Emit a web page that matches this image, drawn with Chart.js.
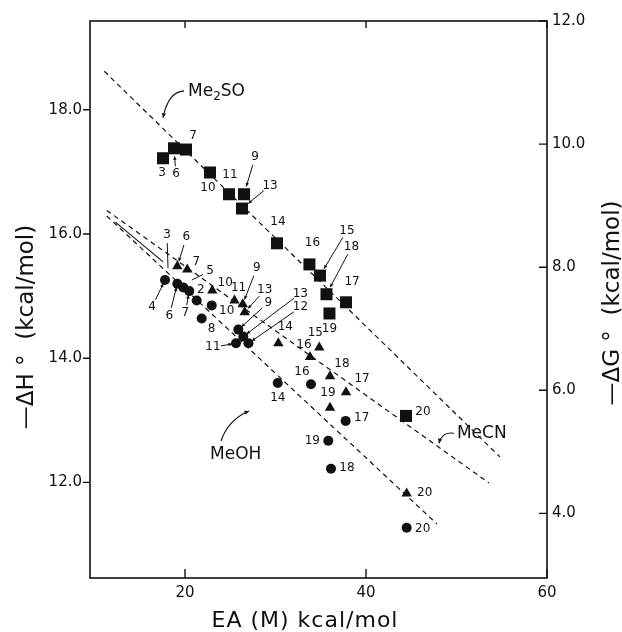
<!DOCTYPE html>
<html>
<head>
<meta charset="utf-8">
<script src="https://cdn.jsdelivr.net/npm/chart.js@4.4.1/dist/chart.umd.min.js"></script>
<style>
  body { margin: 0; background: #fff; }
  canvas { display: block; }
</style>
</head>
<body>
<canvas id="eaChart" width="622" height="632"></canvas>
<script>
// values: EA (M) on x, -dH on the left axis
var sqEA = [17.57, 18.78, 20.11, 22.76, 24.86, 26.52, 26.30, 30.16, 33.75, 34.91, 35.63, 35.96, 37.79, 44.42];
var sqDH = [17.22, 17.38, 17.36, 16.99, 16.64, 16.64, 16.41, 15.85, 15.51, 15.33, 15.03, 14.72, 14.90, 13.07];
var sqNum = ['3', '6', '7', '10', '11', '9', '13', '14', '16', '15', '18', '19', '17', '20'];

var triEA = [19.15, 20.25, 23.01, 25.47, 26.38, 26.59, 30.31, 34.84, 33.81, 36.02, 37.79, 36.02, 44.49];
var triDH = [15.48, 15.43, 15.09, 14.93, 14.87, 14.74, 14.24, 14.17, 14.02, 13.71, 13.45, 13.20, 11.82];
var triNum = ['6', '7', '10', '11', '9', '13', '14', '15', '16', '18', '17', '19', '20'];

var cirEA = [17.79, 19.15, 19.81, 20.47, 21.29, 22.95, 21.84, 25.89, 26.44, 27.01, 25.63, 30.25, 33.92, 37.75, 35.83, 36.13, 44.49];
var cirDH = [15.26, 15.20, 15.14, 15.08, 14.93, 14.85, 14.64, 14.46, 14.35, 14.24, 14.24, 13.60, 13.58, 12.99, 12.67, 12.22, 11.27];
var cirNum = ['4', '6', '', '7', '2', '10', '8', '9', '13', '12', '11', '14', '16', '17', '19', '18', '20'];

// dashed correlation lines, end points
var me2soLineEA = [11.08, 54.80];
var me2soLineDH = [18.62, 12.41];
var mecnLineEA = [11.35, 53.59];
var mecnLineDH = [16.38, 11.99];
var meohLineEA = [11.35, 47.84];
var meohLineDH = [16.29, 11.33];

var xTicks = [20, 40, 60];
var yTicks = [12, 14, 16, 18];
var y2Ticks = [4, 6, 8, 10, 12];

// label placement (px offset from the point, arrow flag)
var sqLabelPos = [[-1, 15, 0], [2, 26, 1], [7, -14, 0], [-2, 15, 0], [1, -19, 0], [11, -37, 1], [28, -23, 1],
  [1, -21, 0], [3, -22, 0], [27, -45, 1], [25, -47, 1], [0, 15, 0], [6, -20, 0], [17, -4, 0]];
var triLabelPos = [[9, -29, 1], [9, -8, 0], [13, -8, 0], [4, -13, 0], [14, -36, 1], [20, -22, 1], [7, -16, 0],
  [-4, -15, 0], [-6, -12, 0], [12, -12, 0], [16, -13, 0], [-2, -15, 0], [18, -1, 0]];
var cirLabelPos = [[-13, 27, 1], [-8, 32, 1], [0, 0, 0], [-4, 22, 1], [4, -11, 0], [15, 5, 0], [10, 10, 0],
  [30, -27, 1], [57, -43, 1], [52, -36, 1], [-23, 4, 1], [0, 15, 0], [-9, -12, 0], [16, -3, 0], [-16, 0, 0],
  [16, -1, 0], [16, 1, 0]];

// labels without a visible marker
var extraNotes = [
  { text: '3', x: 18.12, y: 15.45, dx: -1, dy: -33 },
  { text: '5', x: 20.77, y: 15.26, dx: 18, dy: -9 }
];

// solvent names: arrow tip in data units, text / curve in px from the tip
var solventNotes = [
  { text: 'Me', sub: '2', rest: 'SO', x: 17.57, y: 17.87, tx: 25, ty: -26, sx: 21, sy: -27, cx: 5, cy: -26 },
  { text: 'MeCN', x: 48.06, y: 12.63, tx: 18, ty: -10, sx: 15, sy: -10, cx: 3, cy: -12 },
  { text: 'MeOH', x: 27.07, y: 13.15, tx: -39, ty: 44, sx: -28, sy: 30, cx: -21, cy: 9 }
];

function pairs(xs, ys) {
  return xs.map(function (v, i) { return { x: v, y: ys[i] }; });
}

Chart.defaults.font.family = "'DejaVu Sans', sans-serif";
Chart.defaults.color = '#111';

var ink = '#111';

function arrowHead(ctx, x, y, ang, size) {
  ctx.beginPath();
  ctx.moveTo(x, y);
  ctx.lineTo(x - size * Math.cos(ang - 0.45), y - size * Math.sin(ang - 0.45));
  ctx.lineTo(x - size * Math.cos(ang + 0.45), y - size * Math.sin(ang + 0.45));
  ctx.closePath();
  ctx.fill();
}

var figureDecor = {
  id: 'figureDecor',
  afterDraw: function (chart) {
    var ctx = chart.ctx;
    var a = chart.chartArea;
    var xs = chart.scales.x, ys = chart.scales.y, y2 = chart.scales.y2;
    ctx.save();
    ctx.strokeStyle = ink;
    ctx.fillStyle = ink;

    // frame
    ctx.lineWidth = 1.6;
    ctx.strokeRect(a.left, a.top, a.right - a.left, a.bottom - a.top);

    // tick marks
    ctx.lineWidth = 1.4;
    ctx.beginPath();
    xTicks.forEach(function (v) {
      var px = xs.getPixelForValue(v);
      ctx.moveTo(px, a.bottom); ctx.lineTo(px, a.bottom - 9);
      ctx.moveTo(px, a.top); ctx.lineTo(px, a.top + 7);
    });
    yTicks.forEach(function (v) {
      var py = ys.getPixelForValue(v);
      ctx.moveTo(a.left, py); ctx.lineTo(a.left - 7, py);
    });
    y2Ticks.forEach(function (v) {
      var py = y2.getPixelForValue(v);
      ctx.moveTo(a.right, py); ctx.lineTo(a.right - 8, py);
    });
    ctx.stroke();

    // number labels
    ctx.font = "12px 'DejaVu Sans'";
    ctx.textAlign = 'center';
    ctx.textBaseline = 'middle';
    var sets = [[sqNum, sqLabelPos, 9], [triNum, triLabelPos, 6], [cirNum, cirLabelPos, 5]];
    sets.forEach(function (s, di) {
      var meta = chart.getDatasetMeta(di);
      s[0].forEach(function (txt, j) {
        if (!txt) return;
        var el = meta.data[j];
        var p = s[1][j];
        var lx = el.x + p[0], ly = el.y + p[1];
        ctx.fillText(txt, lx, ly);
        if (p[2]) {
          var dx = el.x - lx, dy = el.y - ly;
          var d = Math.sqrt(dx * dx + dy * dy);
          var ux = dx / d, uy = dy / d;
          var ex = el.x - ux * (s[2] - 1), ey = el.y - uy * (s[2] - 1);
          ctx.lineWidth = 1;
          ctx.beginPath();
          ctx.moveTo(lx + ux * 8, ly + uy * 8);
          ctx.lineTo(ex, ey);
          ctx.stroke();
          arrowHead(ctx, ex, ey, Math.atan2(uy, ux), 4);
        }
      });
    });

    extraNotes.forEach(function (n) {
      var px = xs.getPixelForValue(n.x), py = ys.getPixelForValue(n.y);
      var lx = px + n.dx, ly = py + n.dy;
      ctx.fillText(n.text, lx, ly);
      var dx = px - lx, dy = py - ly;
      var d = Math.sqrt(dx * dx + dy * dy);
      ctx.lineWidth = 1;
      ctx.beginPath();
      ctx.moveTo(lx + dx / d * 8, ly + dy / d * 8);
      ctx.lineTo(px, py);
      ctx.stroke();
    });

    // solid leader line at the upper left of the lower lines
    ctx.lineWidth = 1.1;
    ctx.beginPath();
    ctx.moveTo(xs.getPixelForValue(12.31), ys.getPixelForValue(16.19));
    ctx.lineTo(xs.getPixelForValue(17.58), ys.getPixelForValue(15.55));
    ctx.stroke();

    // solvent names with curved arrows
    ctx.textAlign = 'left';
    solventNotes.forEach(function (n) {
      var px = xs.getPixelForValue(n.x), py = ys.getPixelForValue(n.y);
      ctx.lineWidth = 1.1;
      ctx.beginPath();
      ctx.moveTo(px + n.sx, py + n.sy);
      ctx.quadraticCurveTo(px + n.cx, py + n.cy, px, py);
      ctx.stroke();
      arrowHead(ctx, px, py, Math.atan2(-n.cy, -n.cx), 5);
      var tx = px + n.tx, ty = py + n.ty;
      ctx.font = "17px 'DejaVu Sans'";
      ctx.fillText(n.text, tx, ty);
      if (n.sub) {
        tx += ctx.measureText(n.text).width;
        ctx.font = "12px 'DejaVu Sans'";
        ctx.fillText(n.sub, tx, ty + 5);
        tx += ctx.measureText(n.sub).width;
        ctx.font = "17px 'DejaVu Sans'";
        ctx.fillText(n.rest, tx, ty);
      }
    });

    // axis titles
    ctx.textAlign = 'center';
    ctx.font = "22px 'DejaVu Sans'";
    ctx.letterSpacing = '1px';
    ctx.fillText('EA (M) kcal/mol', 305, a.bottom + 43);
    ctx.letterSpacing = '0px';
    ctx.font = "23px 'DejaVu Sans'";
    ctx.save();
    ctx.translate(27, 327);
    ctx.rotate(-Math.PI / 2);
    ctx.fillText('\u2014\u0394H \u00b0  (kcal/mol)', 0, 0);
    ctx.restore();
    ctx.save();
    ctx.translate(613, 303);
    ctx.rotate(-Math.PI / 2);
    ctx.fillText('\u2014\u0394G \u00b0  (kcal/mol)', 0, 0);
    ctx.restore();

    ctx.restore();
  }
};

function fixedTicks(list) {
  return function (scale) {
    scale.ticks = list.map(function (v) { return { value: v }; });
  };
}

var dashed = {
  showLine: true,
  pointRadius: 0,
  borderColor: ink,
  borderWidth: 1.2,
  borderDash: [5, 4],
  fill: false
};

var chart = new Chart(document.getElementById('eaChart'), {
  type: 'scatter',
  data: {
    datasets: [
      { label: 'Me2SO', data: pairs(sqEA, sqDH), pointStyle: 'rect', pointRadius: 8.5, backgroundColor: ink, borderColor: ink, borderWidth: 0 },
      { label: 'MeCN', data: pairs(triEA, triDH), pointStyle: 'triangle', pointRadius: 6, backgroundColor: ink, borderColor: ink, borderWidth: 0 },
      { label: 'MeOH', data: pairs(cirEA, cirDH), pointStyle: 'circle', pointRadius: 5, backgroundColor: ink, borderColor: ink, borderWidth: 0 },
      Object.assign({ label: 'Me2SO fit', data: pairs(me2soLineEA, me2soLineDH) }, dashed),
      Object.assign({ label: 'MeCN fit', data: pairs(mecnLineEA, mecnLineDH) }, dashed),
      Object.assign({ label: 'MeOH fit', data: pairs(meohLineEA, meohLineDH) }, dashed)
    ]
  },
  options: {
    responsive: false,
    animation: false,
    layout: { padding: { top: 21, left: 0, right: 0, bottom: 0 } },
    plugins: { legend: { display: false }, tooltip: { enabled: false } },
    scales: {
      x: {
        type: 'linear', position: 'bottom', min: 9.5, max: 60,
        afterBuildTicks: fixedTicks(xTicks),
        afterFit: function (s) { s.height = 54; },
        grid: { display: false, drawTicks: false },
        border: { display: false },
        ticks: { padding: 6, font: { size: 15 }, color: ink, maxRotation: 0, callback: function (v) { return String(v); } }
      },
      y: {
        type: 'linear', position: 'left', min: 10.46, max: 19.43,
        afterBuildTicks: fixedTicks(yTicks),
        afterFit: function (s) { s.width = 90; },
        grid: { display: false, drawTicks: false },
        border: { display: false },
        ticks: { padding: 8, font: { size: 15 }, color: ink, callback: function (v) { return v.toFixed(1); } }
      },
      y2: {
        type: 'linear', position: 'right', min: 2.95, max: 12,
        afterBuildTicks: fixedTicks(y2Ticks),
        afterFit: function (s) { s.width = 75; },
        grid: { display: false, drawTicks: false },
        border: { display: false },
        ticks: { padding: 5, font: { size: 15 }, color: ink, callback: function (v) { return v.toFixed(1); } }
      }
    }
  },
  plugins: [figureDecor]
});
</script>
</body>
</html>
